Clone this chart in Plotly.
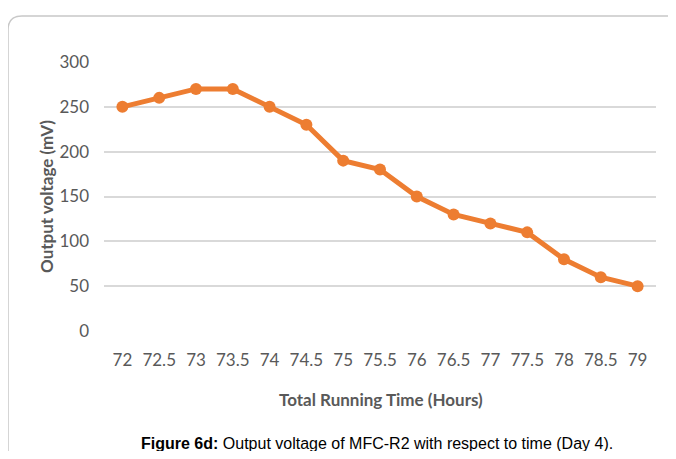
import plotly.graph_objects as go

hours = ["72", "72.5", "73", "73.5", "74", "74.5", "75", "75.5", "76", "76.5",
         "77", "77.5", "78", "78.5", "79"]
voltage = [250, 260, 270, 270, 250, 230, 190, 180, 150, 130, 120, 110, 80, 60, 50]

# the page body has an 8px margin, so the figure is drawn 8px in from the window edge
OFF = 8
W, H = 676 - 2 * OFF, 459 - 2 * OFF
L, R, T, B = 104 - OFF, W - (656 - OFF), 62 - OFF, H - (331 - OFF)


def px(x):
    return (x - OFF - L) / (W - L - R)


def py(y):
    return (H - B - (y - OFF)) / (H - T - B)


fig = go.Figure(go.Scatter(
    x=hours, y=voltage, mode="lines+markers",
    line=dict(color="#ED7D31", width=5),
    marker=dict(color="#ED7D31", size=12),
    hoverinfo="x+y",
))

r = 14
border = (f"M {px(8)},{py(480)} L {px(8)},{py(16 + r)} "
          f"Q {px(8)},{py(16)} {px(8 + r)},{py(16)} L {px(700)},{py(16)}")

fig.update_layout(
    width=W, height=H,
    margin=dict(l=L, r=R, t=T, b=B, autoexpand=False),
    paper_bgcolor="white", plot_bgcolor="white",
    showlegend=False,
    font=dict(family="Lato", color="#595959", size=16),
    xaxis=dict(type="category", range=[-0.5, len(hours) - 0.5],
               showgrid=False, zeroline=False, showline=False,
               ticks="", tickfont=dict(size=17, color="#595959"), ticklabelstandoff=17,
               automargin=False),
    yaxis=dict(range=[0, 300], dtick=50, showgrid=True, gridcolor="#D9D9D9", gridwidth=1.5,
               zeroline=False, showline=False, ticks="", automargin=False,
               tickfont=dict(size=17, color="#595959"), ticklabelstandoff=14),
    shapes=[dict(type="path", path=border, xref="paper", yref="paper",
                 line=dict(color="#C8C8C8", width=1.5))],
    annotations=[
        dict(text="<b>Output voltage (mV)</b>", textangle=-90, x=px(46), y=py(197),
             xanchor="center", yanchor="middle",
             xref="paper", yref="paper", showarrow=False, font=dict(size=17, color="#595959")),
        dict(text="<b>Total Running Time (Hours)</b>", x=px(381), y=py(399),
             xanchor="center", yanchor="middle",
             xref="paper", yref="paper", showarrow=False, font=dict(size=17, color="#595959")),
        dict(text="<b>Figure 6d:</b> Output voltage of MFC-R2 with respect to time (Day 4).",
             x=px(377), y=py(443), xanchor="center", yanchor="middle",
             xref="paper", yref="paper", showarrow=False,
             font=dict(family="Liberation Sans", size=16, color="#000000")),
    ],
)

fig.write_html("out.html")
